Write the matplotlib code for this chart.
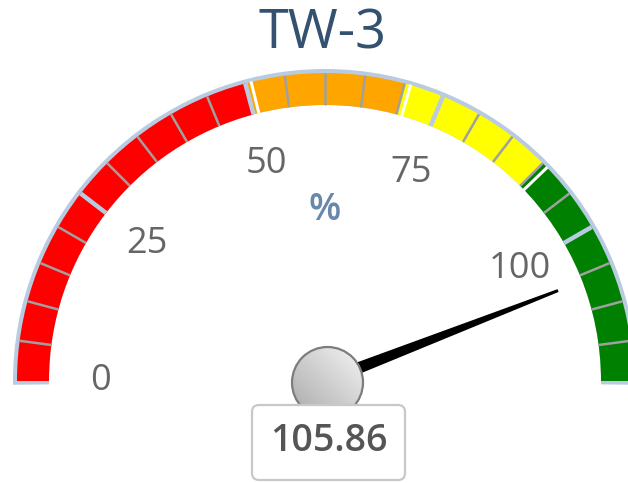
import numpy as np
import matplotlib
matplotlib.use('Agg')
import matplotlib.pyplot as plt
from matplotlib.patches import Wedge, Circle, Polygon, FancyBboxPatch

# gauge data
title = 'TW-3'
unit = '%'
value = 105.86
vmin, vmax = 0, 120
band_edges = [0, 50, 70, 90, 120]
band_colors = ['#ff0000', '#ffa500', '#ffff00', '#008000']
major_ticks = [0, 25, 50, 75, 100]
minor_step = 5

plt.rcParams['font.family'] = ['Open Sans', 'DejaVu Sans']

W, H = 628, 483
fig = plt.figure(figsize=(W / 100, H / 100), dpi=100)
ax = fig.add_axes([0, 0, 1, 1])
ax.set_xlim(0, W)
ax.set_ylim(0, H)
ax.axis('off')

cx, cy = 325, H - 381      # pivot / dial centre
r_out, r_in = 308, 276


def ang(v):
    return 180 - (v - vmin) / (vmax - vmin) * 180


def radial(v, r1, r2):
    a = np.radians(ang(v))
    return [cx + r1 * np.cos(a), cx + r2 * np.cos(a)], [cy + r1 * np.sin(a), cy + r2 * np.sin(a)]


# light blue rim behind the bands
ax.add_patch(Wedge((cx, cy), r_out + 4, -0.7, 180.7, width=r_out + 4 - r_in,
                   facecolor='#b9cbe0', edgecolor='none'))

for lo, hi, c in zip(band_edges[:-1], band_edges[1:], band_colors):
    ax.add_patch(Wedge((cx, cy), r_out, ang(hi), ang(lo), width=r_out - r_in,
                       facecolor=c, edgecolor='none'))

# minor ticks (grey) and major ticks (light blue)
for v in np.arange(vmin + minor_step, vmax, minor_step):
    if v in major_ticks:
        continue
    xs, ys = radial(v, r_in, r_out)
    ax.plot(xs, ys, color='#a0a0a0', lw=1.8, solid_capstyle='butt')
for v in major_ticks[1:]:
    xs, ys = radial(v, r_in, r_out)
    ax.plot(xs, ys, color='#b9cbe0', lw=3.2, solid_capstyle='butt')

# white gaps between colour bands
for v in band_edges[1:-1]:
    xs, ys = radial(v + 0.75, r_in - 1, r_out + 0.5)
    ax.plot(xs, ys, color='white', lw=2.2, solid_capstyle='butt')

# tick labels
r_lab = 225
for v in major_ticks:
    a = np.radians(ang(v))
    ax.text(cx + r_lab * np.cos(a), cy + r_lab * np.sin(a), str(v),
            ha='center', va='center', fontsize=26, color='#666666')

ax.text(325, H - 210, unit, ha='center', va='center', fontsize=27,
        fontweight='semibold', color='#6a88ac')
ax.text(323, H - 34, title, ha='center', va='center', fontsize=39, color='#34516f')

# needle
a = np.radians(ang(value))
L = 250
d = np.array([np.cos(a), np.sin(a)])
n = np.array([-d[1], d[0]])
p0 = np.array([cx, cy])
needle = [p0 + n * 6.5, p0 + d * L + n * 1.5, p0 + d * L - n * 1.5, p0 - n * 6.5]
ax.add_patch(Polygon(needle, closed=True, facecolor='black', edgecolor='none'))

# pivot with gradient
pc = (327.5, H - 382.5)
pr = 35.5
circ = Circle(pc, pr, facecolor='none', edgecolor='#7d7d7d', lw=1.6, zorder=5)
ax.add_patch(circ)
gx, gy = np.meshgrid(np.linspace(0, 1, 100), np.linspace(0, 1, 100))
grad = (gx + gy) / 2
im = ax.imshow(grad, cmap=matplotlib.colors.LinearSegmentedColormap.from_list('g', ['#a9a9a9', '#f4f4f4']),
               extent=[pc[0] - pr, pc[0] + pr, pc[1] - pr, pc[1] + pr], origin='lower', zorder=4)
im.set_clip_path(Circle(pc, pr, transform=ax.transData))
ax.set_xlim(0, W)
ax.set_ylim(0, H)
ax.set_aspect('auto')

# value box
box = FancyBboxPatch((252, H - 480), 153, 75, boxstyle='round,pad=0,rounding_size=7',
                     facecolor='white', edgecolor='#c8c8c8', lw=1.6, zorder=6)
ax.add_patch(box)
ax.text(328.5, H - 441, f'{value:.2f}', ha='center', va='center', fontsize=27,
        fontweight='semibold', color='#555555', zorder=7)

fig.savefig('out.png', dpi=100)
